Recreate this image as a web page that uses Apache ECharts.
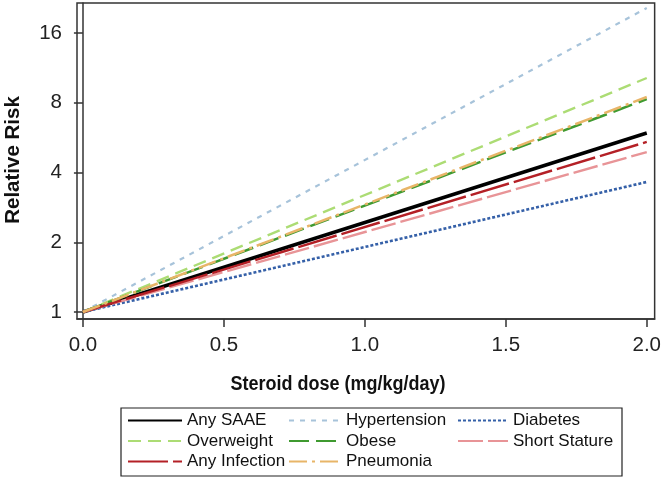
<!DOCTYPE html>
<html>
<head>
<meta charset="utf-8">
<script src="https://cdn.jsdelivr.net/npm/echarts@6/dist/echarts.min.js"></script>
<style>html,body{margin:0;padding:0;background:#fff}#c{width:664px;height:481px}</style>
</head>
<body>
<div id="c"></div>
<script>
// Data (relative risk at dose 0 and 2.0 mg/kg/day)
var doses = [0, 2.0];
var seriesNames = ['Any SAAE', 'Hypertension', 'Diabetes', 'Overweight', 'Obese', 'Short Stature', 'Any Infection', 'Pneumonia'];
var anySAAE = [1, 5.92];
var hypertension = [1, 20.5];
var diabetes = [1, 3.64];
var overweight = [1, 10.23];
var obese = [1, 8.29];
var shortStature = [1, 4.9];
var anyInfection = [1, 5.42];
var pneumonia = [1, 8.47];
var xTicks = [0, 0.5, 1.0, 1.5, 2.0];
var yTicks = [1, 2, 4, 8, 16];

var values = [anySAAE, hypertension, diabetes, overweight, obese, shortStature, anyInfection, pneumonia];
var styles = [
  {color: '#000000', width: 3.5, type: 'solid'},
  {color: '#a7c3da', width: 2.2, type: [5, 6]},
  {color: '#3560a8', width: 2.6, type: [3, 2]},
  {color: '#acdc74', width: 2.4, type: [13, 7]},
  {color: '#3f9a30', width: 2.5, type: [20, 7]},
  {color: '#e89497', width: 2.4, type: [25, 5]},
  {color: '#b42026', width: 2.4, type: [40, 5]},
  {color: '#e8b568', width: 2.5, type: [18, 5, 3, 5]}
];

var series = seriesNames.map(function (n, i) {
  return {
    name: n,
    type: 'line',
    symbol: 'none',
    silent: true,
    animation: false,
    data: doses.map(function (d, j) { return [d, values[i][j]]; }),
    itemStyle: {color: styles[i].color},
    lineStyle: styles[i]
  };
});

var font = 'Liberation Sans, Arial, sans-serif';
function legendCol(data, left, w) {
  return {
    orient: 'vertical',
    left: left,
    top: 412,
    padding: 0,
    itemGap: 3.5,
    itemWidth: w,
    itemHeight: 14,
    data: data,
    selectedMode: false,
    itemStyle: {opacity: 0, borderWidth: 0},
    textStyle: {fontFamily: font, fontSize: 17, color: '#111', lineHeight: 17}
  };
}

var chart = echarts.init(document.getElementById('c'), null, {renderer: 'canvas'});
chart.setOption({
  animation: false,
  grid: {left: 77, right: 7, top: 3, bottom: 162, show: true, borderColor: '#333', borderWidth: 1.5, backgroundColor: 'transparent'},
  xAxis: {
    type: 'value',
    min: -0.021,
    max: 2.028,
    axisLine: {show: true, onZero: false, lineStyle: {color: '#333', width: 1.5}},
    axisTick: {show: true, length: 8, customValues: xTicks, lineStyle: {color: '#333', width: 1.5}},
    axisLabel: {customValues: xTicks, fontFamily: font, fontSize: 20.5, color: '#222', margin: 16,
      formatter: function (v) { return v.toFixed(1); }},
    splitLine: {show: false}
  },
  yAxis: {
    type: 'log',
    logBase: 2,
    min: 0.933,
    max: 21.55,
    axisLine: {show: true, lineStyle: {color: '#333', width: 1.5}},
    axisTick: {show: true, length: 9, customValues: yTicks, lineStyle: {color: '#333', width: 1.5}},
    axisLabel: {customValues: yTicks, fontFamily: font, fontSize: 20.5, color: '#222', margin: 15,
      formatter: function (v) { return String(Math.round(v)); }},
    splitLine: {show: false},
    minorTick: {show: false}
  },
  legend: [
    legendCol(['Any SAAE', 'Overweight', 'Any Infection'], 127, 54),
    legendCol(['Hypertension', 'Obese', 'Pneumonia'], 288, 52),
    legendCol(['Diabetes', 'Short Stature'], 457, 50)
  ],
  graphic: [
    {type: 'rect', shape: {x: 121, y: 408, width: 501, height: 68}, style: {fill: 'none', stroke: '#222', lineWidth: 1.2}, silent: true},
    {type: 'text', x: 338, y: 385, scaleY: 1.08, style: {text: 'Steroid dose (mg/kg/day)', font: 'bold 18px ' + font, fill: '#111', textAlign: 'center', textVerticalAlign: 'middle'}, silent: true},
    {type: 'text', x: 13, y: 160, rotation: Math.PI / 2, style: {text: 'Relative Risk', font: 'bold 20.5px ' + font, fill: '#111', textAlign: 'center', textVerticalAlign: 'middle'}, silent: true}
  ],
  series: series
});
</script>
</body>
</html>
